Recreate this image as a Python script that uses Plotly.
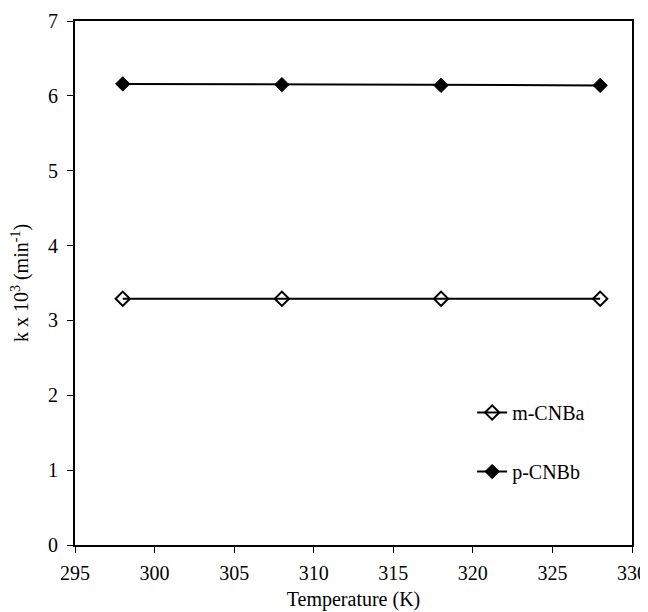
import plotly.graph_objects as go

temperature = [298, 308, 318, 328]
m_cnba = [3.29, 3.29, 3.29, 3.29]
p_cnbb = [6.16, 6.15, 6.14, 6.14]

x_ticks = [295, 300, 305, 310, 315, 320, 325, 330]
y_ticks = [0, 1, 2, 3, 4, 5, 6, 7]

ff = "Liberation Serif, Times New Roman, serif"

fig = go.Figure()
fig.add_trace(go.Scatter(
    x=temperature, y=m_cnba, name="m-CNBa", mode="lines+markers",
    line=dict(color="black", width=2),
    marker=dict(symbol="diamond-open", size=11, color="black", line=dict(width=2, color="black")),
    legendgroup="a",
))
fig.add_trace(go.Scatter(
    x=temperature, y=p_cnbb, name="p-CNBb", mode="lines+markers",
    line=dict(color="black", width=2),
    marker=dict(symbol="diamond", size=11, color="black", line=dict(width=1, color="black")),
    legendgroup="b",
))

fig.update_layout(
    width=640, height=604,
    margin=dict(l=67, r=16, t=13, b=67),
    paper_bgcolor="white", plot_bgcolor="white",
    font=dict(family=ff, size=20, color="black"),
    showlegend=True,
    legend=dict(
        x=0.713, y=0.29, xanchor="left", yanchor="top",
        bgcolor="rgba(0,0,0,0)", tracegroupgap=30,
        font=dict(family=ff, size=20, color="black"),
    ),
    xaxis=dict(
        range=[295, 330], tickvals=x_ticks, ticktext=[str(v) for v in x_ticks],
        showgrid=False, zeroline=False, automargin=False,
        showline=True, linecolor="black", linewidth=2, mirror=True,
        ticks="outside", ticklen=6, tickwidth=1, tickcolor="black",
        ticklabelstandoff=3,
        title=dict(text="Temperature (K)", font=dict(family=ff, size=20, color="black"), standoff=9),
        tickfont=dict(family=ff, size=20, color="black"),
    ),
    yaxis=dict(
        range=[0, 7], tickvals=y_ticks, ticktext=[str(v) for v in y_ticks],
        showgrid=False, zeroline=False, automargin=False,
        showline=True, linecolor="black", linewidth=2, mirror=True,
        ticks="outside", ticklen=6, tickwidth=1, tickcolor="black",
        ticklabelstandoff=5,
        title=dict(text="k x 10<sup>3</sup> (min<sup>-1</sup>)", font=dict(family=ff, size=20, color="black"), standoff=22),
        tickfont=dict(family=ff, size=20, color="black"),
    ),
)

fig.write_html("out.html")
